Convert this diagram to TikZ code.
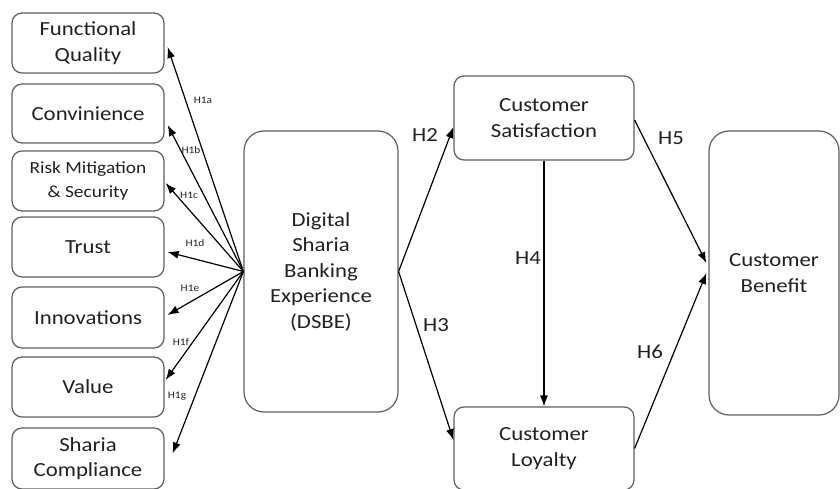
\documentclass[tikz,border=0pt]{standalone}
\usepackage{fontspec}
\setmainfont{Carlito}[FakeStretch=1.14]
\usetikzlibrary{arrows.meta}
\definecolor{boxline}{HTML}{5E5E5E}
\definecolor{txt}{HTML}{202020}
\tikzset{
  box/.style={draw=boxline, line width=1.2pt, rounded corners=10pt, align=center, inner sep=0pt,
    text=txt, font=\fontsize{20}{25.5}\selectfont},
  bigbox/.style={box, rounded corners=20pt},
  leftbox/.style={box, minimum width=152pt},
  arr/.style={draw=black, line width=1.2pt, -{Latex[length=11pt,width=8pt]}},
  small/.style={text=txt, font=\fontsize{10}{10}\selectfont, inner sep=0pt},
  hlab/.style={text=txt, font=\fontsize{20}{20}\selectfont, inner sep=0pt},
}
\begin{document}
\begin{tikzpicture}[x=1pt,y=-1pt]
\useasboundingbox (0,0) rectangle (840,489);
% left boxes
\node[leftbox, minimum height=60pt] (fq) at (88,43) {Functional\\Quality};
\node[leftbox, minimum height=59pt] (cv) at (88,113.5) {Convinience};
\node[leftbox, minimum height=60pt, font=\fontsize{17}{24}\selectfont] (rm) at (88,181) {Risk Mitigation\\\& Security};
\node[leftbox, minimum height=60pt] (tr) at (88,247) {Trust};
\node[leftbox, minimum height=61pt] (in) at (88,317.5) {Innovations};
\node[leftbox, minimum height=60pt] (va) at (88,387) {Value};
\node[leftbox, minimum height=61pt] (sc) at (88,458.5) {Sharia\\Compliance};
% centre
\node[bigbox, minimum width=154pt, minimum height=281pt] (ds) at (321,271.5) {Digital\\Sharia\\Banking\\Experience\\(DSBE)};
\node[box, minimum width=180pt, minimum height=84pt] (sa) at (544,118) {Customer\\Satisfaction};
\node[box, minimum width=180pt, minimum height=83pt] (lo) at (544,448.5) {Customer\\Loyalty};
\node[bigbox, minimum width=130pt, minimum height=284pt] (be) at (774,273) {Customer\\Benefit};
% H1 arrows
\draw[arr] (ds.west) -- ([yshift=-4pt,xshift=3pt]fq.east);
\draw[arr] (ds.west) -- ([yshift=-11.5pt,xshift=3pt]cv.east);
\draw[arr] (ds.west) -- ([yshift=-2pt,xshift=1pt]rm.east);
\draw[arr] (ds.west) -- ([yshift=-5pt,xshift=3pt]tr.east);
\draw[arr] (ds.west) -- ([yshift=2.5pt,xshift=3pt]in.east);
\draw[arr] (ds.west) -- ([yshift=7pt,xshift=1pt]va.east);
\draw[arr] (ds.west) -- ([yshift=5pt,xshift=8pt]sc.east);
\node[small] (l1a) at (203,100) {H1a};
\node[small] (l1b) at (191,150) {H1b};
\node[small] (l1c) at (189,195) {H1c};
\node[small] (l1d) at (195,243) {H1d};
\node[small] (l1e) at (190,288) {H1e};
\node[small] (l1f) at (181,342) {H1f};
\node[small] (l1g) at (177,396) {H1g};
% other arrows
\draw[arr] (ds.east) -- ([yshift=-9pt]sa.west);
\draw[arr] (ds.east) -- ([yshift=8.5pt]lo.west);
\draw[arr] (sa.south) -- (lo.north);
\draw[arr] ([yshift=-2pt]sa.east) -- ([yshift=10pt,xshift=-2pt]be.west);
\draw[arr] ([yshift=0pt]lo.east) -- ([xshift=-2pt]be.west);
\node[hlab] (h2) at (425,135) {H2};
\node[hlab] (h3) at (436,325) {H3};
\node[hlab] (h4) at (528,258) {H4};
\node[hlab] (h5) at (671,138) {H5};
\node[hlab] (h6) at (650,352) {H6};
\end{tikzpicture}
\end{document}
